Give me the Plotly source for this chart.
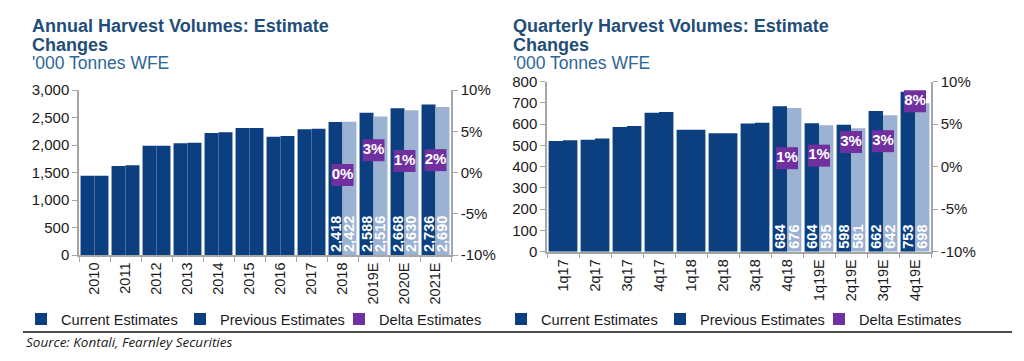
import plotly.graph_objects as go

# ---------------- data ----------------
years = ["2010", "2011", "2012", "2013", "2014", "2015", "2016", "2017",
         "2018", "2019E", "2020E", "2021E"]
annual_current = [1442, 1618, 1988, 2030, 2218, 2309, 2152, 2285, 2418, 2588, 2668, 2736]
annual_previous = [1442, 1630, 1988, 2042, 2230, 2309, 2164, 2297, 2422, 2516, 2630, 2690]
annual_delta = [None] * 8 + [-0.003, 0.027, 0.014, 0.015]
annual_delta_labels = [""] * 8 + ["0%", "3%", "1%", "2%"]
annual_first_labelled = 8

quarters = ["1q17", "2q17", "3q17", "4q17", "1q18", "2q18", "3q18", "4q18",
            "1q19E", "2q19E", "3q19E", "4q19E"]
q_current = [521, 527, 587, 654, 574, 557, 603, 684, 604, 598, 662, 753]
q_previous = [524, 533, 591, 657, 574, 557, 607, 676, 595, 581, 642, 698]
q_delta = [None] * 7 + [0.010, 0.013, 0.029, 0.030, 0.077]
q_delta_labels = [""] * 7 + ["1%", "1%", "3%", "3%", "8%"]
q_first_labelled = 7

pct_ticks = [-0.10, -0.05, 0.0, 0.05, 0.10]
pct_ticktext = ["-10%", "-5%", "0%", "5%", "10%"]

# ---------------- style ----------------
DARK = "#0B3F7F"
LIGHT = "#9BB2D2"
PURPLE = "#7030A0"
AXIS = "#A6A6A6"
TXT = "#1a1a1a"
FONT = "Liberation Sans, Arial, sans-serif"
W, H = 1024, 361


def px_x(p):
    return p / W


def px_y(p):
    return 1 - p / H


fig = go.Figure()


def add_panel(cats, cur, prev, delta, dlabels, first_lab, xa, ya, ya2, legend):
    prev_colors = [DARK if i < first_lab else LIGHT for i in range(len(cats))]
    cur_text = [f"{v:,}" if i >= first_lab else "" for i, v in enumerate(cur)]
    prev_text = [f"{v:,}" if i >= first_lab else "" for i, v in enumerate(prev)]
    common = dict(textposition="inside", insidetextanchor="start", textangle=-90,
                  constraintext="none", cliponaxis=False,
                  insidetextfont=dict(color="white", size=14.5, family=FONT, weight="bold"))
    fig.add_trace(go.Bar(x=cats, y=cur, name="Current Estimates", marker_color=DARK,
                         marker_line_width=0, text=cur_text, xaxis=xa, yaxis=ya,
                         legend=legend, offsetgroup="c", **common))
    fig.add_trace(go.Bar(x=cats, y=prev, name="Previous Estimates", marker_color=prev_colors,
                         marker_line_width=0, text=prev_text, xaxis=xa, yaxis=ya,
                         legend=legend, offsetgroup="p", **common))
    fig.add_trace(go.Scatter(x=cats, y=delta, name="Delta Estimates", mode="markers+text",
                             marker=dict(symbol="square", size=22, color=PURPLE),
                             text=dlabels, textposition="middle center",
                             texttemplate="<b>%{text}</b>",
                             textfont=dict(color="white", size=15, family=FONT),
                             xaxis=xa, yaxis=ya2, legend=legend, cliponaxis=False))


add_panel(years, annual_current, annual_previous, annual_delta, annual_delta_labels,
          annual_first_labelled, "x", "y", "y2", "legend")
add_panel(quarters, q_current, q_previous, q_delta, q_delta_labels,
          q_first_labelled, "x2", "y3", "y4", "legend2")

tickfont = dict(family=FONT, size=15, color=TXT)
xcommon = dict(type="category", showline=True, linecolor=AXIS, linewidth=1.5,
               ticks="outside", tickson="boundaries", ticklen=5, tickcolor=AXIS,
               tickangle=-90, tickfont=dict(family=FONT, size=14.5, color=TXT),
               showgrid=False, zeroline=False, automargin=False)
ycommon = dict(showline=True, linecolor=AXIS, linewidth=1.5, ticks="outside",
               ticklen=5, tickcolor=AXIS, tickfont=tickfont, showgrid=False,
               zeroline=False, automargin=False)
legcommon = dict(orientation="h", xanchor="left", yanchor="middle",
                 font=dict(family=FONT, size=14.6, color=TXT), bgcolor="rgba(0,0,0,0)",
                 traceorder="normal", itemsizing="constant",
                 entrywidth=114, entrywidthmode="pixels")

fig.update_layout(
    width=W, height=H,
    margin=dict(l=0, r=0, t=0, b=0, autoexpand=False),
    paper_bgcolor="white", plot_bgcolor="white",
    font=dict(family=FONT, color=TXT),
    barmode="group", bargap=0.1, bargroupgap=0,
    xaxis=dict(domain=[px_x(79), px_x(451)], anchor="y",
               range=[-0.5, len(years) - 0.5], **xcommon),
    yaxis=dict(domain=[px_y(255), px_y(90)], anchor="x", range=[0, 3000], dtick=500,
               tickformat=",", **ycommon),
    yaxis2=dict(overlaying="y", side="right", anchor="x", range=[-0.10, 0.10],
                tickvals=pct_ticks, ticktext=pct_ticktext, **ycommon),
    xaxis2=dict(domain=[px_x(547), px_x(931)], anchor="y3",
                range=[-0.5, len(quarters) - 0.5], **xcommon),
    yaxis3=dict(domain=[px_y(251.7), px_y(81.7)], anchor="x2", range=[0, 800], dtick=100,
                **ycommon),
    yaxis4=dict(overlaying="y3", side="right", anchor="x2", range=[-0.10, 0.10],
                tickvals=pct_ticks, ticktext=pct_ticktext, **ycommon),
    legend=dict(x=px_x(21), y=px_y(319), **legcommon),
    legend2=dict(x=px_x(501), y=px_y(319), **legcommon),
)

TITLE_C = "#1F4E79"
SUB_C = "#2E6699"
annots = []
for x0, t in [(31, "Annual Harvest Volumes: Estimate"), (512, "Quarterly Harvest Volumes: Estimate")]:
    annots.append(dict(text=f"<b>{t}</b>", x=px_x(x0), y=px_y(26), fs=18))
    annots.append(dict(text="<b>Changes</b>", x=px_x(x0), y=px_y(45), fs=18))
    annots.append(dict(text="'000 Tonnes WFE", x=px_x(x0), y=px_y(63), fs=17.5, sub=True))
for a in annots:
    sub = a.pop("sub", False)
    fs = a.pop("fs")
    fig.add_annotation(xref="paper", yref="paper", xanchor="left", yanchor="middle",
                       showarrow=False, borderpad=0,
                       font=dict(family=FONT, size=fs, color=SUB_C if sub else TITLE_C), **a)

fig.add_annotation(text="<i>Source: Kontali, Fearnley Securities</i>", xref="paper", yref="paper",
                   x=px_x(24), y=px_y(342), xanchor="left", yanchor="middle", showarrow=False,
                   font=dict(family="Open Sans, sans-serif", size=13.5, color=TXT))

fig.add_shape(type="line", xref="paper", yref="paper", x0=px_x(23), x1=px_x(1012),
              y0=px_y(332), y1=px_y(332), line=dict(color="#111111", width=1.5))

fig.write_html("out.html", config={"displayModeBar": False},
               post_script="document.body.style.margin='0px';document.body.style.overflow='hidden';")
